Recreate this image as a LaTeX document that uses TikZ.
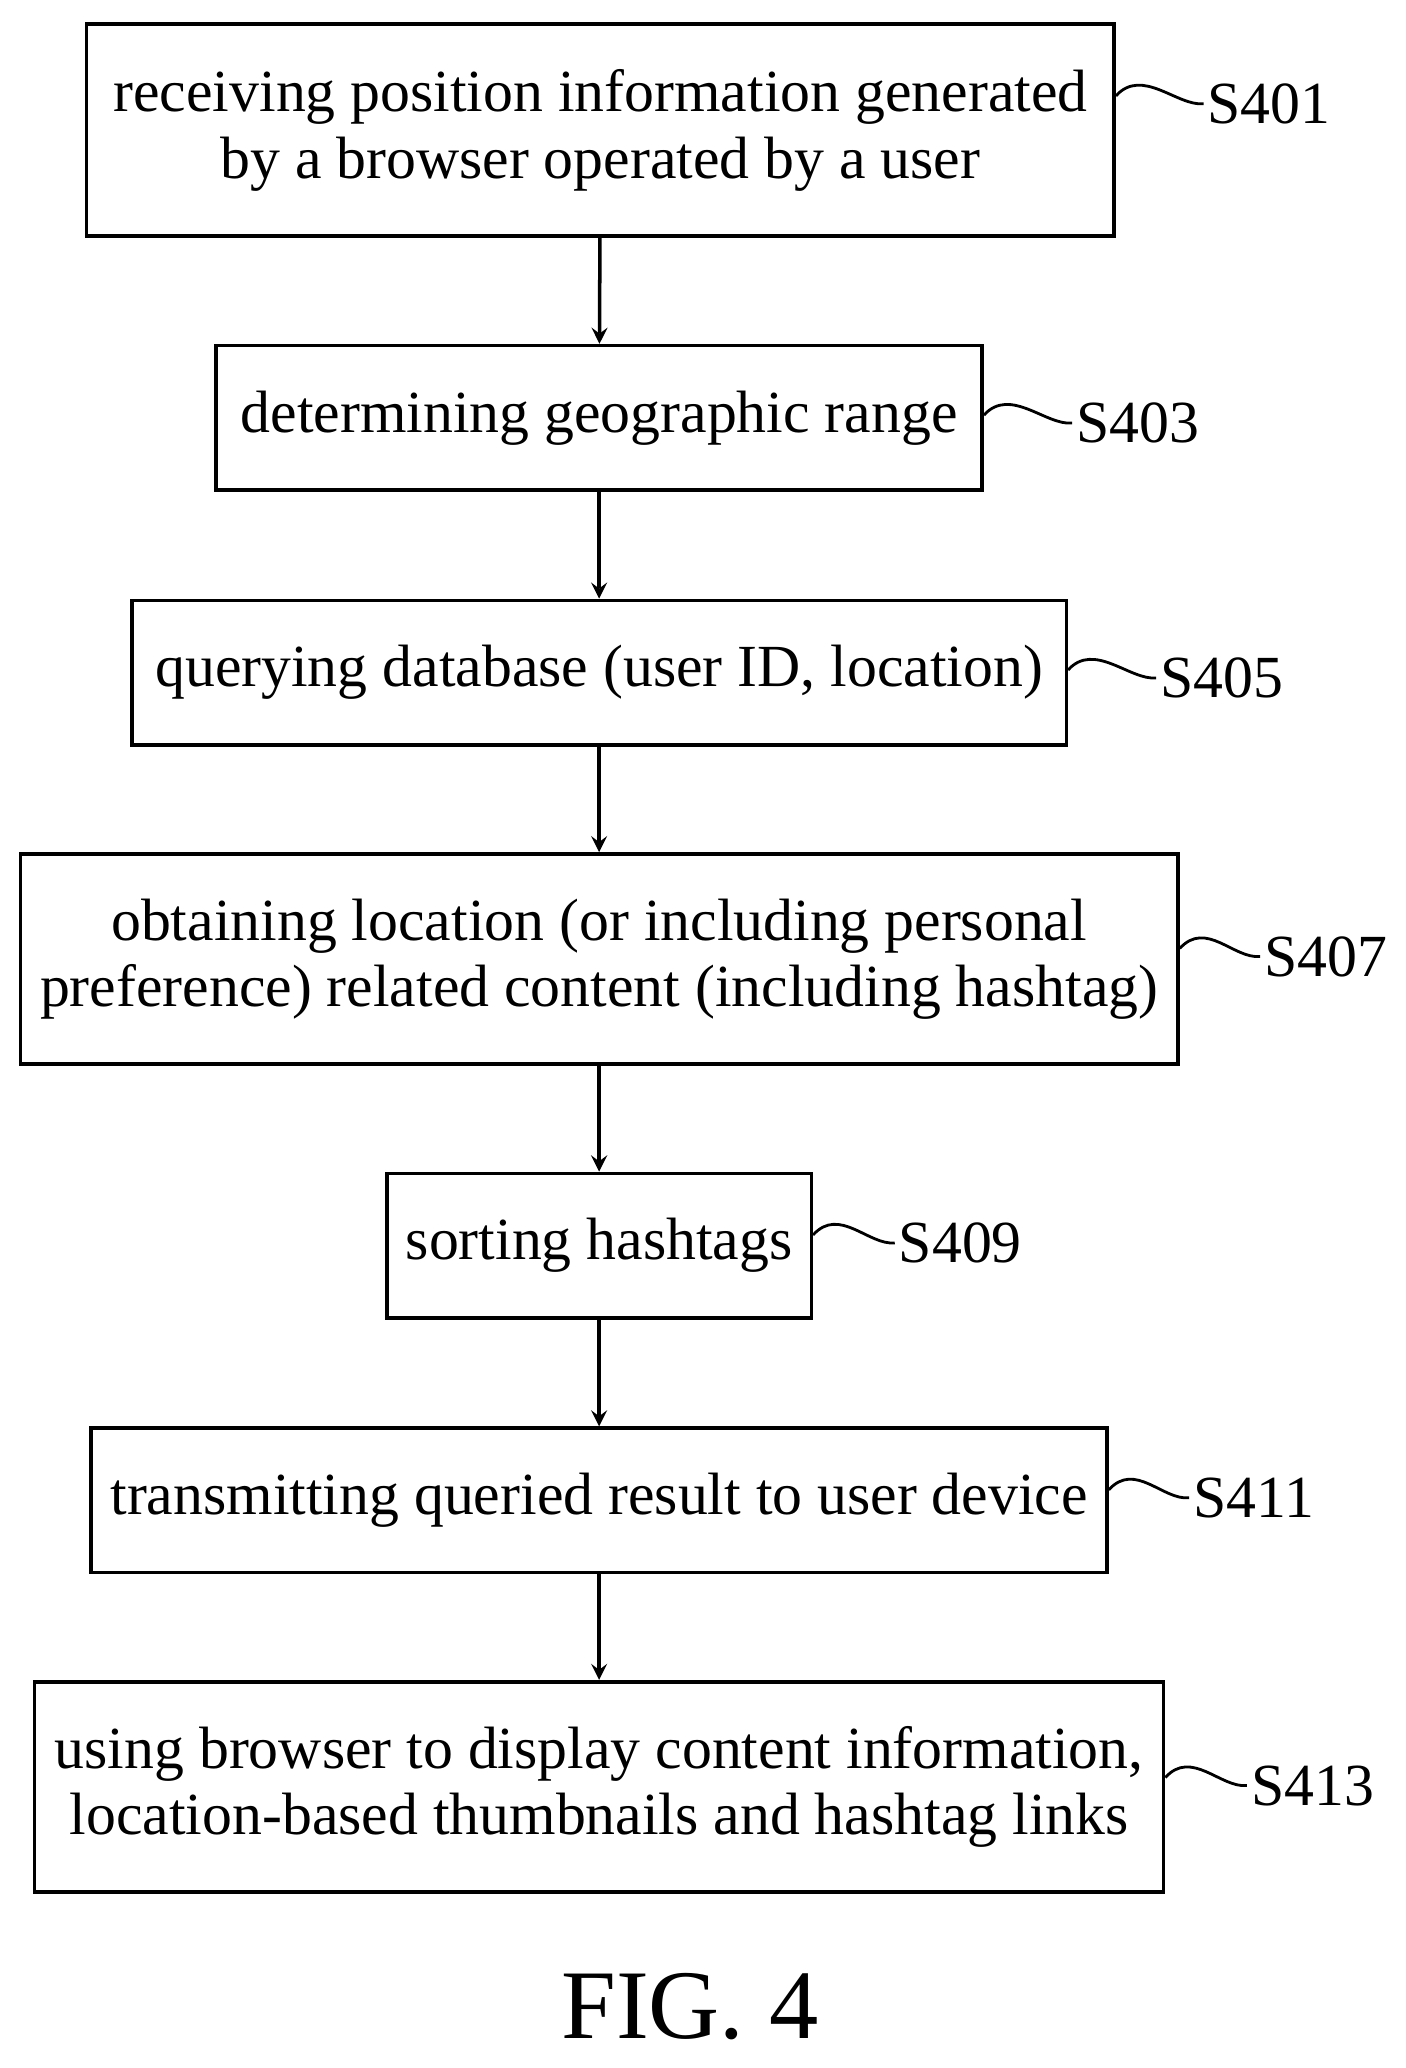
\documentclass[tikz,border=0pt]{standalone}
\usepackage{fontspec}
\setmainfont{Liberation Serif}
\tikzset{box/.style = {draw, line width=1pt, inner sep=0pt, font=\fontsize{17}{19}\selectfont, align=center},
         lb/.style  = {font=\fontsize{17}{19}\selectfont, inner sep=1pt, anchor=west}}

\begin{document}
\begin{tikzpicture}[x=0.01314cm, y=-0.01314cm, >=stealth]
    \useasboundingbox (0,0) rectangle (1070,1574);
    \node[box, minimum width=10.275cm, minimum height=2.116cm] (b401) at (457,99) {receiving position information generated\\by a browser operated by a user};
    \node[box, minimum width=7.661cm, minimum height=1.445cm] (b403) at (456,318) {determining geographic range};
    \node[box, minimum width=9.343cm, minimum height=1.445cm] (b405) at (456,512) {querying database (user ID, location)};
    \node[box, minimum width=11.576cm, minimum height=2.102cm] (b407) at (456,730) {obtaining location (or including personal\\preference) related content (including hashtag)};
    \node[box, minimum width=4.244cm, minimum height=1.445cm] (b409) at (456,948) {sorting hashtags};
    \node[box, minimum width=10.157cm, minimum height=1.445cm] (b411) at (456,1142) {transmitting queried result to user device};
    \node[box, minimum width=11.287cm, minimum height=2.102cm] (b413) at (456,1360) {using browser to display content information,\\location-based thumbnails and hashtag links};
    \node[lb] (l401) at (916,79) {S401};
    \node[lb] (l403) at (816,322) {S403};
    \node[lb] (l405) at (880,516) {S405};
    \node[lb] (l407) at (959,728) {S407};
    \node[lb] (l409) at (681,946) {S409};
    \node[lb] (l411) at (905,1140) {S411};
    \node[lb] (l413) at (949,1359) {S413};
    \node[font=\fontsize{28}{30}\selectfont] (fig) at (525,1527) {FIG. 4};
    \foreach \b in {401,403,405,407,409,411,413}
        \draw[line width=0.8pt] ([yshift=0.08cm]l\b.west -| b\b.east) .. controls +(20,-22) and +(-20,2) .. (l\b.west);
    \foreach \a/\b in {401/403,403/405,405/407,407/409,409/411,411/413}
        \draw[->, line width=1pt] (b\a) -- (b\b);
\end{tikzpicture}
\end{document}
